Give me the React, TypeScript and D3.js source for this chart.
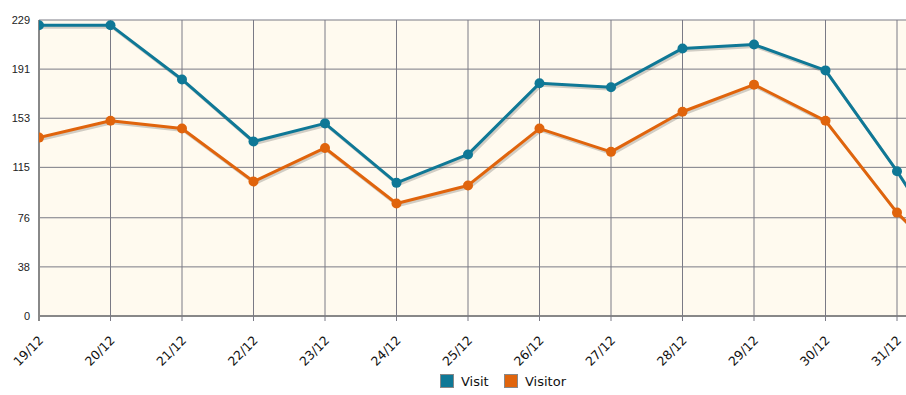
import * as d3 from "d3";
import { useEffect, useRef } from "react";

const CATEGORIES = ["19/12", "20/12", "21/12", "22/12", "23/12", "24/12", "25/12", "26/12", "27/12", "28/12", "29/12", "30/12", "31/12", "01/01"];
const VISIT = [225, 225, 183, 135, 149, 103, 125, 180, 177, 207, 210, 190, 112, 26];
const VISITOR = [138, 151, 145, 104, 130, 87, 101, 145, 127, 158, 179, 151, 80, 25];
const Y_TICKS = [0, 38, 76, 115, 153, 191, 229];
const SERIES = [
  { name: "Visit", values: VISIT, color: "#0f7896" },
  { name: "Visitor", values: VISITOR, color: "#e0640c" },
];

const App = () => {
  const svgRef = useRef(null);

  useEffect(() => {
    const width = 906;
    const height = 395;
    const left = 39;
    const top = 20;
    const bottom = 316;
    const step = 71.5;

    const svg = d3.select(svgRef.current).attr("width", width).attr("height", height);
    svg.selectAll("*").remove();

    const x = d3
      .scalePoint()
      .domain(CATEGORIES)
      .range([left, left + step * (CATEGORIES.length - 1)]);
    const y = d3.scaleLinear().domain([0, 229]).range([bottom, top]);

    svg
      .append("defs")
      .append("clipPath")
      .attr("id", "plot-clip")
      .append("rect")
      .attr("x", left)
      .attr("y", 0)
      .attr("width", width - left)
      .attr("height", bottom + 2);

    // background
    svg
      .append("rect")
      .attr("x", left)
      .attr("y", top)
      .attr("width", width - left)
      .attr("height", bottom - top)
      .attr("fill", "#fffaef");

    // horizontal grid + labels
    Y_TICKS.forEach((t) => {
      svg
        .append("line")
        .attr("x1", left)
        .attr("x2", width)
        .attr("y1", y(t))
        .attr("y2", y(t))
        .attr("stroke", t === 0 ? "#888" : "#7a7a85")
        .attr("stroke-width", t === 0 ? 2 : 1);
      svg
        .append("text")
        .attr("x", 30)
        .attr("y", y(t) + 4)
        .attr("text-anchor", "end")
        .attr("font-family", "Arial, 'Liberation Sans', sans-serif")
        .attr("font-size", 11)
        .attr("fill", "#222")
        .text(t);
    });

    // vertical grid + rotated labels
    CATEGORIES.slice(0, 13).forEach((c) => {
      const cx = x(c) as number;
      svg
        .append("line")
        .attr("x1", cx)
        .attr("x2", cx)
        .attr("y1", top)
        .attr("y2", bottom + 5)
        .attr("stroke", "#7a7a85")
        .attr("stroke-width", 1);
      svg
        .append("text")
        .attr("transform", `translate(${cx - 1},${bottom + 19}) rotate(-45)`)
        .attr("text-anchor", "end")
        .attr("dy", "0.7em")
        .attr("font-family", "'DejaVu Sans', Tahoma, sans-serif")
        .attr("font-size", 12.5)
        .attr("fill", "#111")
        .text(c);
    });

    svg
      .append("line")
      .attr("x1", left)
      .attr("x2", left)
      .attr("y1", top)
      .attr("y2", bottom + 5)
      .attr("stroke", "#888")
      .attr("stroke-width", 2);

    const plot = svg.append("g").attr("clip-path", "url(#plot-clip)");

    const line = d3
      .line<number>()
      .x((d, i) => x(CATEGORIES[i]) as number)
      .y((d) => y(d));

    // shadows
    SERIES.forEach((s) => {
      plot
        .append("path")
        .attr("d", line(s.values) as string)
        .attr("fill", "none")
        .attr("stroke", "#000")
        .attr("stroke-opacity", 0.18)
        .attr("stroke-width", 3)
        .attr("transform", "translate(1.5,2)");
    });

    SERIES.forEach((s) => {
      plot
        .append("path")
        .attr("d", line(s.values) as string)
        .attr("fill", "none")
        .attr("stroke", s.color)
        .attr("stroke-width", 3)
        .attr("stroke-linejoin", "round");
      plot
        .selectAll(null)
        .data(s.values)
        .enter()
        .append("circle")
        .attr("cx", (d, i) => x(CATEGORIES[i]) as number)
        .attr("cy", (d) => y(d))
        .attr("r", 5)
        .attr("fill", s.color);
    });

    // legend
    const legend = svg.append("g").attr("transform", "translate(440,374)");
    const offsets = [0, 64];
    SERIES.forEach((s, i) => {
      legend
        .append("rect")
        .attr("x", offsets[i] + 0.5)
        .attr("y", 0.5)
        .attr("width", 13)
        .attr("height", 13)
        .attr("fill", s.color)
        .attr("stroke", "#888")
        .attr("stroke-width", 1);
      legend
        .append("text")
        .attr("x", offsets[i] + 21)
        .attr("y", 11.5)
        .attr("font-family", "'DejaVu Sans', Tahoma, sans-serif")
        .attr("font-size", 13)
        .attr("fill", "#111")
        .text(s.name);
    });
  }, []);

  return (
    <svg
      ref={svgRef}
      style={{ position: "absolute", left: 0, top: 0, background: "#fff" }}
    ></svg>
  );
};

export default App;
